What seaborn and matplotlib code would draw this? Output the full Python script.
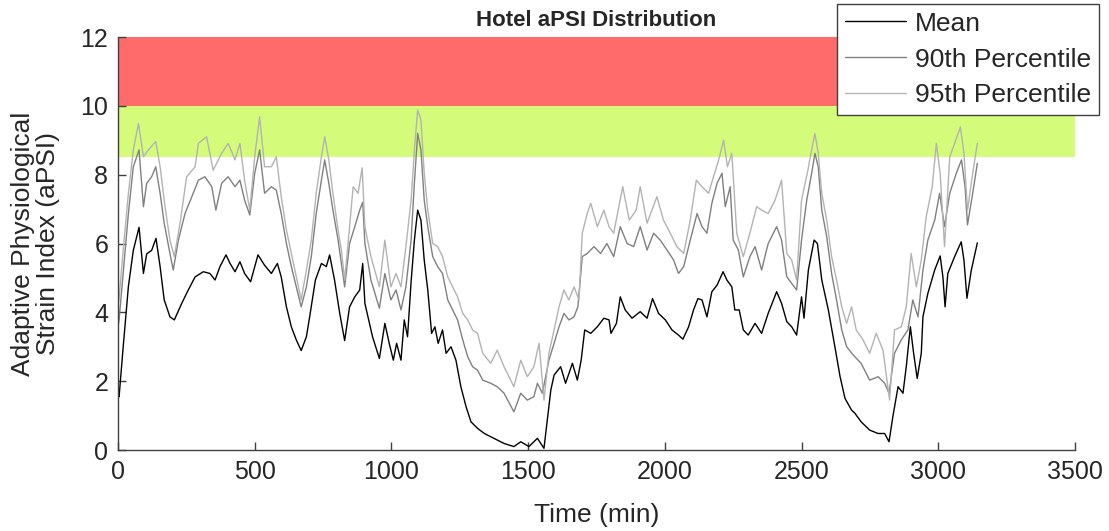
import numpy as np
import pandas as pd
import matplotlib
matplotlib.use("Agg")
import matplotlib.pyplot as plt
import seaborn as sns

# values (time in minutes, aPSI)
t_mean = [0, 4, 19, 38, 56, 77, 93, 105, 123, 139, 154, 169, 190, 206, 233, 257, 282, 312, 336, 355,
          373, 395, 410, 428, 446, 463, 485, 512, 536, 561, 583, 597, 616, 634, 652, 670, 689, 701,
          722, 744, 762, 774, 792, 811, 829, 847, 866, 884, 895, 903, 931, 956, 976, 992, 1007, 1019,
          1035, 1047, 1059, 1072, 1084, 1096, 1108, 1120, 1133, 1147, 1159, 1171, 1187, 1200, 1218,
          1236, 1254, 1273, 1291, 1315, 1340, 1375, 1412, 1448, 1473, 1503, 1534, 1558, 1570, 1583,
          1595, 1619, 1637, 1662, 1680, 1694, 1707, 1729, 1753, 1777, 1796, 1803, 1823, 1837, 1855,
          1880, 1910, 1935, 1955, 1977, 2002, 2026, 2050, 2066, 2087, 2105, 2121, 2136, 2154, 2172,
          2191, 2213, 2227, 2245, 2256, 2272, 2287, 2305, 2330, 2354, 2378, 2409, 2427, 2446, 2464,
          2482, 2500, 2509, 2525, 2546, 2558, 2574, 2598, 2622, 2641, 2659, 2683, 2695, 2718, 2749,
          2780, 2804, 2820, 2834, 2853, 2871, 2883, 2898, 2910, 2923, 2938, 2944, 2962, 2987, 3007,
          3017, 3025, 3035, 3060, 3084, 3094, 3105, 3121, 3143]
v_mean = [1.6, 1.55, 3.0, 4.75, 5.8, 6.47, 5.13, 5.7, 5.8, 6.15, 5.33, 4.36, 3.87, 3.78, 4.26, 4.65,
          5.03, 5.18, 5.13, 4.94, 5.33, 5.67, 5.42, 5.18, 5.47, 5.13, 4.89, 5.67, 5.37, 5.13, 5.42,
          5.03, 4.16, 3.58, 3.2, 2.89, 3.29, 3.87, 4.94, 5.42, 5.33, 5.67, 4.94, 3.97, 3.18, 4.16,
          4.45, 4.65, 5.42, 4.26, 3.29, 2.66, 3.68, 3.1, 2.61, 3.1, 2.61, 3.78, 3.29, 4.89, 6.1,
          6.97, 6.68, 5.52, 4.65, 3.39, 3.58, 3.1, 3.49, 2.81, 3.0, 2.61, 1.84, 1.26, 0.82, 0.63,
          0.48, 0.34, 0.19, 0.1, 0.24, 0.1, 0.34, 0.05, 0.87, 1.74, 2.18, 2.42, 1.94, 2.52, 2.03,
          2.61, 3.49, 3.39, 3.58, 3.83, 3.78, 3.39, 3.68, 4.45, 4.07, 3.83, 4.02, 3.83, 4.4, 3.97,
          3.78, 3.49, 3.34, 3.22, 3.58, 4.07, 4.4, 4.36, 3.87, 4.6, 4.79, 5.18, 4.94, 4.74, 4.07,
          4.07, 3.49, 3.34, 3.68, 3.39, 3.97, 4.6, 4.26, 3.73, 3.58, 3.34, 4.45, 3.83, 5.23, 6.1,
          6.0, 4.94, 4.07, 3.0, 2.13, 1.5, 1.16, 1.07, 0.82, 0.58, 0.48, 0.48, 0.24, 0.97, 1.84,
          1.65, 2.42, 3.58, 2.81, 2.08, 2.81, 3.87, 4.55, 5.23, 5.64, 5.03, 4.16, 5.13, 5.62, 6.05,
          5.52, 4.41, 5.23, 6.02]

t_p90 = [0, 4, 19, 38, 56, 77, 93, 105, 123, 138, 154, 169, 190, 202, 221, 245, 270, 294, 318, 343,
         358, 379, 403, 428, 446, 463, 482, 500, 518, 536, 561, 579, 597, 616, 634, 652, 670, 689,
         707, 725, 744, 756, 771, 786, 805, 817, 829, 847, 866, 884, 895, 903, 925, 956, 976, 998,
         1017, 1035, 1053, 1072, 1084, 1096, 1108, 1120, 1133, 1151, 1169, 1187, 1206, 1224, 1242,
         1261, 1279, 1297, 1315, 1334, 1363, 1387, 1412, 1448, 1473, 1497, 1521, 1534, 1552, 1576,
         1595, 1613, 1631, 1649, 1668, 1682, 1698, 1716, 1741, 1765, 1788, 1813, 1837, 1862, 1886,
         1910, 1935, 1959, 1983, 2008, 2032, 2050, 2069, 2093, 2118, 2136, 2154, 2172, 2191, 2209,
         2221, 2239, 2250, 2269, 2287, 2311, 2330, 2354, 2378, 2409, 2427, 2446, 2464, 2482, 2500,
         2519, 2537, 2549, 2561, 2574, 2592, 2610, 2628, 2647, 2665, 2689, 2718, 2749, 2780, 2804,
         2820, 2840, 2865, 2889, 2907, 2926, 2944, 2962, 2987, 3005, 3023, 3042, 3066, 3085, 3098,
         3107, 3126, 3143]
v_p90 = [3.6, 3.78, 5.13, 6.87, 8.23, 8.72, 7.07, 7.75, 7.94, 8.23, 7.46, 6.59, 5.71, 5.23, 6.1,
         6.87, 7.36, 7.84, 7.94, 7.65, 6.97, 7.75, 7.94, 7.65, 7.84, 7.26, 6.83, 8.04, 8.72, 7.46,
         7.65, 7.55, 6.87, 6.0, 5.33, 4.74, 4.16, 4.74, 5.62, 6.87, 7.84, 8.43, 7.75, 6.97, 6.1,
         5.42, 4.74, 6.0, 6.49, 6.97, 7.2, 6.0, 4.94, 4.12, 5.13, 4.36, 4.65, 4.07, 4.74, 6.1, 7.75,
         9.2, 8.72, 7.26, 6.49, 5.62, 5.33, 5.13, 4.36, 4.07, 3.78, 3.2, 2.71, 2.42, 2.32, 2.03,
         1.94, 1.84, 1.65, 1.11, 1.65, 1.45, 1.55, 1.94, 1.65, 2.61, 3.1, 3.58, 3.97, 3.78, 3.87,
         4.16, 5.62, 5.71, 5.91, 5.71, 6.0, 5.62, 6.49, 6.0, 5.91, 6.49, 5.81, 6.3, 6.1, 5.81, 5.52,
         5.13, 5.33, 6.1, 6.87, 6.49, 6.3, 7.17, 7.75, 8.04, 7.07, 7.65, 6.1, 5.81, 5.03, 5.62,
         5.91, 5.23, 6.0, 6.49, 6.1, 5.03, 4.84, 4.65, 6.1, 7.26, 8.04, 8.62, 8.23, 6.97, 6.2, 5.13,
         4.36, 3.49, 3.0, 2.76, 2.52, 2.03, 2.13, 1.94, 1.65, 2.81, 3.2, 3.49, 4.36, 3.87, 5.23, 6.1,
         6.68, 7.46, 6.49, 7.46, 8.04, 8.43, 7.65, 6.54, 7.46, 8.33]

t_p95 = [0, 4, 19, 38, 56, 75, 93, 111, 138, 154, 172, 190, 206, 227, 251, 282, 294, 324, 348, 379,
         403, 428, 446, 463, 482, 500, 518, 536, 561, 579, 597, 616, 634, 652, 670, 689, 707, 725,
         744, 756, 771, 786, 805, 817, 829, 847, 860, 878, 893, 903, 925, 956, 976, 998, 1017, 1035,
         1053, 1072, 1084, 1096, 1108, 1120, 1133, 1151, 1169, 1187, 1206, 1224, 1242, 1261, 1279,
         1297, 1315, 1334, 1363, 1387, 1412, 1448, 1473, 1497, 1521, 1540, 1558, 1576, 1595, 1613,
         1631, 1649, 1668, 1686, 1698, 1716, 1729, 1753, 1777, 1796, 1813, 1846, 1870, 1895, 1910,
         1935, 1971, 1995, 2020, 2044, 2069, 2093, 2115, 2136, 2160, 2178, 2197, 2215, 2229, 2245,
         2263, 2287, 2311, 2336, 2354, 2378, 2403, 2427, 2446, 2464, 2482, 2500, 2521, 2537, 2549,
         2561, 2574, 2592, 2610, 2628, 2647, 2665, 2683, 2700, 2725, 2749, 2773, 2798, 2822, 2840,
         2865, 2883, 2901, 2920, 2938, 2956, 2978, 2993, 3007, 3023, 3042, 3060, 3081, 3094, 3107,
         3126, 3143]
v_p95 = [4.2, 4.4, 5.81, 7.46, 8.72, 9.49, 8.52, 8.72, 8.96, 8.23, 7.07, 6.1, 5.62, 6.59, 7.94, 8.23,
         8.91, 9.1, 8.13, 8.62, 8.91, 8.43, 8.91, 7.84, 6.97, 8.52, 9.68, 8.23, 8.23, 8.52, 7.36,
         6.39, 5.71, 5.03, 4.36, 5.23, 6.1, 7.46, 8.52, 9.1, 8.43, 7.46, 6.39, 5.81, 4.94, 6.49,
         7.65, 7.46, 8.2, 6.49, 5.62, 4.74, 6.1, 4.74, 5.13, 4.74, 5.91, 7.26, 8.72, 9.88, 9.59,
         8.04, 6.97, 6.0, 5.91, 5.62, 5.03, 4.74, 4.45, 3.97, 3.78, 3.49, 3.39, 2.81, 2.52, 2.9,
         2.42, 1.84, 2.61, 2.13, 2.42, 3.1, 1.45, 2.81, 3.49, 4.16, 4.65, 4.36, 4.74, 4.36, 6.3,
         6.87, 7.17, 6.49, 6.97, 6.49, 6.3, 7.65, 6.68, 6.97, 7.65, 6.59, 7.36, 6.68, 6.3, 5.91,
         5.71, 6.68, 7.84, 7.65, 7.46, 7.94, 8.43, 9.0, 8.23, 8.62, 6.3, 5.62, 6.3, 7.07, 6.97,
         6.87, 7.26, 7.84, 5.71, 5.52, 4.94, 7.26, 8.04, 8.72, 9.2, 8.62, 7.46, 6.68, 5.62, 4.94,
         4.16, 3.68, 4.16, 3.49, 3.2, 2.81, 3.39, 2.9, 1.45, 3.49, 3.58, 4.16, 5.71, 4.74, 5.52,
         6.78, 7.65, 8.91, 8.04, 5.91, 8.52, 8.91, 9.39, 8.62, 6.97, 8.04, 8.91]

series_names = ["Mean", "90th Percentile", "95th Percentile"]
line_colors = ["#000000", "#808080", "#b3b3b3"]

df = pd.concat([
    pd.DataFrame({"Time (min)": t_mean, "aPSI": v_mean, "series": series_names[0]}),
    pd.DataFrame({"Time (min)": t_p90, "aPSI": v_p90, "series": series_names[1]}),
    pd.DataFrame({"Time (min)": t_p95, "aPSI": v_p95, "series": series_names[2]}),
], ignore_index=True)

sns.set_style("white")
plt.rcParams["font.family"] = ["Liberation Sans", "DejaVu Sans"]

fig = plt.figure(figsize=(11.09, 5.31), dpi=100)
ax = fig.add_axes([0.1064, 0.1525, 0.8629, 0.7778])

# warning bands
ax.axhspan(10, 12, color="#ff6b6b", lw=0, zorder=0)
ax.axhspan(8.5, 10, color="#d4fc7a", lw=0, zorder=0)

sns.lineplot(data=df, x="Time (min)", y="aPSI", hue="series", hue_order=series_names,
             palette=line_colors, estimator=None, sort=True, linewidth=1.0, ax=ax, legend=True)

ax.set_xlim(0, 3500)
ax.set_ylim(0, 12)
ax.set_xticks(np.arange(0, 3501, 500))
ax.set_yticks(np.arange(0, 13, 2))
ax.tick_params(direction="in", length=6, width=1, labelsize=18, colors="#404040",
               labelcolor="#262626", pad=7, bottom=True, left=True)
for s in ["top", "right"]:
    ax.spines[s].set_visible(False)
for s in ["left", "bottom"]:
    ax.spines[s].set_color("#404040")
    ax.spines[s].set_linewidth(1.0)

ax.set_xlabel("Time (min)", fontsize=19, color="#262626", labelpad=14)
ax.set_ylabel("Adaptive Physiological\nStrain Index (aPSI)", fontsize=19, color="#262626",
              labelpad=15, linespacing=1.05)
ax.set_title("Hotel aPSI Distribution", fontsize=16, fontweight="bold", pad=8)

handles, labels = ax.get_legend_handles_labels()
leg = ax.legend(handles, labels, loc="upper right", bbox_to_anchor=(0.991, 0.993),
                bbox_transform=fig.transFigure, fontsize=19, frameon=True, fancybox=False,
                handlelength=2.3, handletextpad=0.35, borderpad=0.3, labelspacing=0.45,
                borderaxespad=0)
leg.get_frame().set_edgecolor("#404040")
leg.get_frame().set_linewidth(1.0)
leg.get_frame().set_alpha(1)

fig.savefig("out.png", dpi=100)
